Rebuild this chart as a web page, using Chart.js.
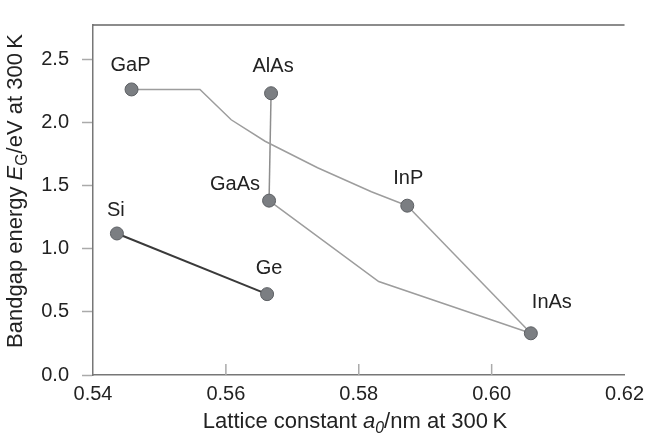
<!DOCTYPE html>
<html>
<head>
<meta charset="utf-8">
<script src="https://cdn.jsdelivr.net/npm/chart.js@4.4.0/dist/chart.umd.min.js"></script>
<style>
html, body { margin: 0; padding: 0; background: #fff; }
</style>
</head>
<body>
<canvas id="gapChart" width="651" height="437"></canvas>
<script>
// semiconductors: lattice constant (nm) and bandgap (eV) at 300 K
var compounds = ['Si', 'Ge', 'GaP', 'AlAs', 'GaAs', 'InP', 'InAs'];
var latticeConst = [0.5436, 0.5662, 0.5458, 0.5668, 0.5665, 0.5873, 0.6059];
var bandgap = [1.12, 0.64, 2.26, 2.23, 1.38, 1.34, 0.33];

// alloy curves between the compounds
var sigeX = [0.5436, 0.5662];
var sigeY = [1.12, 0.64];
var gainpX = [0.5458, 0.5561, 0.5608, 0.5659, 0.5738, 0.5819, 0.5873];
var gainpY = [2.26, 2.26, 2.02, 1.85, 1.64, 1.45, 1.34];
var algaasX = [0.5668, 0.5665];
var algaasY = [2.23, 1.38];
var ingaasX = [0.5665, 0.5830, 0.6059];
var ingaasY = [1.38, 0.74, 0.33];
var inasPX = [0.5873, 0.6059];
var inasPY = [1.34, 0.33];

var xTicks = [0.54, 0.56, 0.58, 0.60, 0.62];
var yTicks = [0.0, 0.5, 1.0, 1.5, 2.0, 2.5];

var FONT = '"Liberation Sans", Arial, Helvetica, sans-serif';

function toXY(xs, ys){
    return xs.map(function(x, i){ return {x: x, y: ys[i]}; });
}

function lineSet(xs, ys, color, width){
    return {
        data: toXY(xs, ys),
        showLine: true,
        borderColor: color,
        borderWidth: width,
        pointRadius: 0,
        fill: false,
        tension: 0
    };
}

function drawRich(ctx, parts, size){
    var total = 0;
    parts.forEach(function(p){
        ctx.font = (p.it ? 'italic ' : '') + (p.sub ? size * 0.72 : size) + 'px ' + FONT;
        p.w = ctx.measureText(p.t).width;
        total += p.w;
    });
    var x = -total / 2;
    parts.forEach(function(p){
        ctx.font = (p.it ? 'italic ' : '') + (p.sub ? size * 0.72 : size) + 'px ' + FONT;
        ctx.fillText(p.t, x, p.sub ? size * 0.28 : 0);
        x += p.w;
    });
}

var labelOffsets = {
    'Si': [-1, -23], 'Ge': [2, -26], 'GaP': [-1, -24], 'AlAs': [2, -27],
    'GaAs': [-34, -16], 'InP': [1, -27], 'InAs': [21, -31]
};

var decor = {
    id: 'decor',
    afterDatasetsDraw: function(chart){
        var ctx = chart.ctx, xs = chart.scales.x, ys = chart.scales.y;
        ctx.save();
        ctx.fillStyle = '#222';
        ctx.font = '20px ' + FONT;
        ctx.textAlign = 'center';
        ctx.textBaseline = 'middle';
        compounds.forEach(function(name, i){
            var off = labelOffsets[name];
            ctx.fillText(name, xs.getPixelForValue(latticeConst[i]) + off[0],
                ys.getPixelForValue(bandgap[i]) + off[1]);
        });
        ctx.restore();
    },
    afterDraw: function(chart){
        var ctx = chart.ctx, area = chart.chartArea, xs = chart.scales.x;
        ctx.save();
        // top frame line
        ctx.strokeStyle = '#666';
        ctx.lineWidth = 1.5;
        ctx.beginPath();
        ctx.moveTo(area.left, area.top);
        ctx.lineTo(area.right, area.top);
        ctx.stroke();
        // inward x ticks
        ctx.strokeStyle = '#aaa';
        xTicks.slice(1, -1).forEach(function(v){
            var px = xs.getPixelForValue(v);
            ctx.beginPath();
            ctx.moveTo(px, area.bottom);
            ctx.lineTo(px, area.bottom - 11);
            ctx.stroke();
        });
        // axis titles
        ctx.fillStyle = '#222';
        ctx.textAlign = 'left';
        ctx.textBaseline = 'middle';
        ctx.translate(355, 422);
        drawRich(ctx, [{t: 'Lattice constant '}, {t: 'a', it: true}, {t: '0', it: true, sub: true},
            {t: '/nm at 300\u2009K'}], 22);
        ctx.setTransform(1, 0, 0, 1, 0, 0);
        ctx.translate(16, 191);
        ctx.rotate(-Math.PI / 2);
        drawRich(ctx, [{t: 'Bandgap energy '}, {t: 'E', it: true}, {t: 'G', sub: true},
            {t: '/eV at 300\u2009K'}], 22);
        ctx.restore();
    }
};

var canvas = document.getElementById('gapChart').getContext('2d');
var chart = new Chart(canvas, {
    type: 'scatter',
    data: {
        datasets: [
            {
                data: toXY(latticeConst, bandgap),
                showLine: false,
                pointRadius: 6.5,
                pointBackgroundColor: '#7b7e82',
                pointBorderColor: '#5c5f63',
                pointBorderWidth: 1
            },
            lineSet(sigeX, sigeY, '#3a3a3a', 2),
            lineSet(gainpX, gainpY, '#9d9d9d', 1.5),
            lineSet(algaasX, algaasY, '#8e8e8e', 1.5),
            lineSet(ingaasX, ingaasY, '#9d9d9d', 1.5),
            lineSet(inasPX, inasPY, '#9d9d9d', 1.5)
        ]
    },
    options: {
        responsive: false,
        animation: false,
        layout: { autoPadding: false, padding: { top: 8, right: 19, left: 0, bottom: 0 } },
        plugins: { legend: { display: false }, tooltip: { enabled: false } },
        scales: {
            x: {
                type: 'linear',
                min: 0.54,
                max: 0.62,
                afterBuildTicks: function(s){ s.ticks = xTicks.map(function(v){ return {value: v}; }); },
                afterFit: function(s){ s.height = 62; },
                ticks: {
                    callback: function(v){ return v.toFixed(2); },
                    color: '#222',
                    font: { size: 20, family: FONT },
                    padding: 7,
                    maxRotation: 0
                },
                grid: { drawOnChartArea: false, drawTicks: false },
                border: { color: '#777', width: 1.5 }
            },
            y: {
                type: 'linear',
                min: 0,
                max: 2.77,
                afterBuildTicks: function(s){ s.ticks = yTicks.map(function(v){ return {value: v}; }); },
                afterFit: function(s){ s.width = 93; },
                ticks: {
                    callback: function(v){ return v.toFixed(1); },
                    color: '#222',
                    font: { size: 20, family: FONT },
                    padding: 13
                },
                grid: { drawOnChartArea: false, tickLength: 11, tickColor: '#aaa', tickWidth: 1.5 },
                border: { color: '#777', width: 1.5 }
            }
        }
    },
    plugins: [decor]
});
</script>
</body>
</html>
